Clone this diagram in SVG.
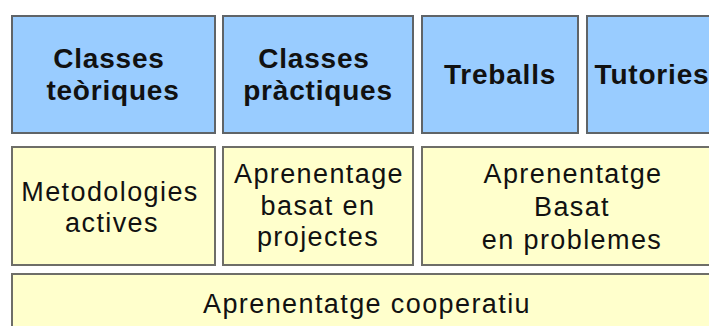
<svg xmlns="http://www.w3.org/2000/svg" width="709" height="326" viewBox="0 0 709 326">
<style>
.b{fill:#99ccff;stroke:#5f6468;stroke-width:2}
.y{fill:#ffffcc;stroke:#6e6e68;stroke-width:2}
.tb{font-family:"Liberation Sans",Arial,sans-serif;font-weight:bold;font-size:28px;fill:#111;text-anchor:middle;letter-spacing:0.8px}
.tr{font-family:"Liberation Sans",Arial,sans-serif;font-size:27px;fill:#111;text-anchor:middle;letter-spacing:1.4px}
</style>
<rect width="709" height="326" fill="#ffffff"/>
<g id="n1"><rect class="b" x="12" y="16" width="203" height="117"/><text class="tb" x="109" y="68">Classes</text><text class="tb" x="113" y="100">teòriques</text></g>
<g id="n2"><rect class="b" x="223" y="16" width="190" height="117"/><text class="tb" x="314" y="68">Classes</text><text class="tb" x="318" y="100">pràctiques</text></g>
<g id="n3"><rect class="b" x="422" y="16" width="156" height="117"/><text class="tb" x="500" y="84">Treballs</text></g>
<g id="n4"><rect class="b" x="587" y="16" width="132" height="117"/><text class="tb" x="652" y="84">Tutories</text></g>
<g id="n5"><rect class="y" x="12" y="147" width="203" height="118"/><text class="tr" x="110" y="201">Metodologies</text><text class="tr" x="112" y="232">actives</text></g>
<g id="n6"><rect class="y" x="223" y="147" width="190" height="118"/><text class="tr" x="319" y="183">Aprenentage</text><text class="tr" x="318" y="215">basat en</text><text class="tr" x="318" y="246">projectes</text></g>
<g id="n7"><rect class="y" x="422" y="147" width="300" height="118"/><text class="tr" x="573" y="183">Aprenentatge</text><text class="tr" x="572" y="216">Basat</text><text class="tr" x="572" y="249">en problemes</text></g>
<g id="n8"><rect class="y" x="12" y="274" width="710" height="70"/><text class="tr" x="367" y="313">Aprenentatge cooperatiu</text></g>
<g id="connectors"></g>
</svg>
